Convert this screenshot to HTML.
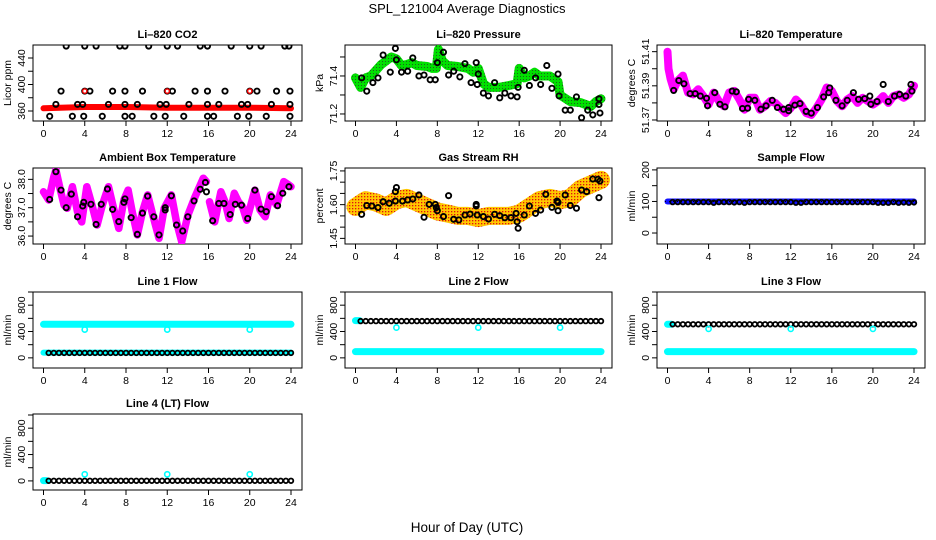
<!DOCTYPE html>
<html><head><meta charset="utf-8"><style>
html,body{margin:0;padding:0;background:#fff;}
svg{display:block;font-family:"Liberation Sans",Arial,sans-serif;}
</style></head><body>
<svg id="chart" width="936" height="540" viewBox="0 0 936 540" xmlns="http://www.w3.org/2000/svg">
<defs>
<pattern id="greenPat" width="3" height="3" patternUnits="userSpaceOnUse"><rect width="3" height="3" fill="#00e000"/><rect x="1" y="1" width="1" height="1" fill="#206020"/></pattern>
<pattern id="rhPat" width="3" height="3" patternUnits="userSpaceOnUse"><rect width="3" height="3" fill="#ffc800"/><rect x="1" y="1" width="1.3" height="1.3" fill="#e01010"/></pattern>
<pattern id="bluePat" width="4" height="4" patternUnits="userSpaceOnUse"><rect width="4" height="4" fill="#1010ff"/><rect x="1" y="1" width="1" height="1" fill="#000"/></pattern>
</defs>
<text x="467" y="13" text-anchor="middle" font-size="13">SPL_121004  Average Diagnostics</text>
<text x="467" y="532" text-anchor="middle" font-size="13.5">Hour of Day (UTC)</text>
</svg>
<script>
// ---------- shared data ----------
const xTicks = [0,4,8,12,16,20,24];
const hours = [0.5,1,1.5,2,2.5,3,3.5,4,4.5,5,5.5,6,6.5,7,7.5,8,8.5,9,9.5,10,10.5,11,11.5,12,12.5,13,13.5,14,14.5,15,15.5,16,16.5,17,17.5,18,18.5,19,19.5,20,20.5,21,21.5,22,22.5,23,23.5,24];

// Li-820 CO2
const co2BandT = [0,4,8,12,16,20,24];
const co2BandV = [364,366,366,365,365,365,364];
const co2PtsT = [2.2,4,5.1,7.4,7.9,10.2,12,13,15.2,15.9,18.2,20,21.1,23.4,23.8, 1.7,4,4.5,6.7,7.9,9.6,12,12.5,14.7,15.9,17.6,20,20.7,22.6,23.9, 1.2,3.3,3.8,6.3,7.9,9.1,11.3,11.9,14.1,15.9,17,19.2,19.8,22.1,23.9, 0.6,2.8,3.9,5.7,7.9,8.6,10.7,11.8,13.6,15.9,16.5,18.8,19.9,21.6,23.9];
const co2PtsV = [458,458,458,458,458,458,458,458,458,458,458,458,458,458,458, 390,390,390,390,390,390,390,390,390,390,390,390,390,390,390, 370,370,370,370,370,370,370,370,370,370,370,370,370,370,370, 352,352,352,352,352,352,352,352,352,352,352,352,352,352,352];
const co2RedT = [4,12,20];
const co2RedV = [390,390,390];

// Li-820 Pressure
const presBandT = [0,0.5,1,1.5,2,2.5,3,3.5,4,4.5,5,5.5,6,7,7.5,7.9,8.1,8.5,9,10,11,11.5,12,12.5,13,14,15,15.8,16,16.5,17,17.5,18,19,19.8,20,21,22,23,23.5,24];
const presBandV = [71.39,71.34,71.39,71.40,71.43,71.46,71.48,71.50,71.49,71.455,71.46,71.47,71.455,71.45,71.44,71.44,71.54,71.48,71.455,71.45,71.44,71.42,71.44,71.36,71.34,71.34,71.35,71.36,71.44,71.39,71.40,71.42,71.40,71.40,71.37,71.30,71.265,71.26,71.24,71.265,71.28];
const presPtsT = [0.6,1.1,1.7,2.2,2.7,3.4,3.9,4,4.5,5.1,5.6,6.2,6.7,7.3,7.8,8,8.6,9.1,9.6,10.2,10.7,11.3,11.8,11.9,12,12.5,13,13.6,14.1,14.6,15.2,15.8,15.9,16.5,17,17.6,18.1,18.7,19.2,19.8,19.9,20.5,21,21.6,22.1,22.7,23.2,23.8,23.8,23.9];
const presPtsV = [71.39,71.32,71.365,71.39,71.51,71.42,71.545,71.485,71.42,71.425,71.495,71.40,71.405,71.38,71.38,71.47,71.525,71.405,71.425,71.395,71.465,71.365,71.47,71.355,71.41,71.31,71.295,71.365,71.285,71.31,71.295,71.29,71.34,71.43,71.35,71.39,71.355,71.455,71.335,71.41,71.295,71.22,71.22,71.29,71.18,71.22,71.195,71.28,71.25,71.205];

// Li-820 Temperature
const tempBandT = [0,0.1,0.3,0.6,1,1.5,2,2.5,3,3.5,4,4.5,5,5.5,6,6.5,7,7.5,8,8.5,9,9.5,10,10.5,11,11.5,12,12.5,13,13.5,14,14.5,15,15.5,16,16.5,17,17.5,18,18.5,19,19.5,20,20.5,21,21.5,22,22.5,23,23.5,24];
const tempBandV = [51.410,51.400,51.394,51.388,51.393,51.396,51.386,51.385,51.388,51.384,51.379,51.386,51.381,51.378,51.386,51.387,51.382,51.376,51.383,51.383,51.376,51.378,51.381,51.380,51.377,51.374,51.377,51.382,51.379,51.374,51.373,51.377,51.382,51.389,51.387,51.381,51.378,51.382,51.384,51.380,51.383,51.381,51.379,51.381,51.384,51.380,51.384,51.385,51.383,51.385,51.390];
const tempPtsT = [0.6,1.1,1.6,2.2,2.7,3.2,3.8,3.9,4.6,5.1,5.6,6.3,6.7,7.3,7.8,7.9,8.5,9.1,9.6,10.2,10.7,11.3,11.8,11.8,12.4,12.9,13.5,14,14.6,15.2,15.7,15.8,16.4,17,17.5,18.1,18.6,19.2,19.7,19.8,20.4,21,21.5,22.1,22.6,23.2,23.7,23.8];
const tempPtsV = [51.3873,51.3931,51.3912,51.3854,51.3854,51.3840,51.3827,51.3783,51.3860,51.3792,51.3777,51.3869,51.3865,51.3767,51.3769,51.3821,51.3815,51.3763,51.3783,51.3815,51.3773,51.3763,51.3754,51.3773,51.3787,51.3796,51.3750,51.3740,51.3773,51.3835,51.3860,51.3888,51.3815,51.3783,51.3815,51.3860,51.3821,51.3825,51.3840,51.3792,51.3808,51.3908,51.3808,51.3840,51.3850,51.3840,51.3908,51.3869];

// Ambient Box Temperature
const ambBandT = [0,0.5,1,1.2,1.6,2,2.3,2.8,3.3,3.7,4.2,4.7,5.2,5.7,6.3,6.8,7.3,7.8,8.2,8.6,9.1,9.6,10.1,10.6,11.2,11.7,12.4,12.9,13.4,14,14.7,15.5,15.8];
const ambBandV = [37.56,37.27,38.09,38.33,37.68,37.09,36.98,37.74,36.86,36.5,37.74,37.09,36.39,37.09,37.74,36.98,36.27,37.27,37.62,36.86,36.04,36.86,37.45,36.74,35.92,36.98,37.45,36.5,35.8,36.74,37.39,38.04,37.92];
const ambBand2T = [16.1,16.6,17.2,17.6,18,18.5,18.9,19.3,19.7,20.5,21,21.5,22,22.6,23.3,23.8,24];
const ambBand2V = [37.21,36.5,37.56,37.21,36.62,37.51,37.21,37.04,36.56,37.62,36.92,36.68,37.45,37.09,37.92,37.8,37.74];
const ambPtsT = [0.6,1.2,1.7,2.2,2.7,3.3,3.8,3.9,4.6,5.1,5.6,6.2,6.7,7.3,7.8,7.9,8.5,9.1,9.6,10.1,10.7,11.2,11.8,11.8,12.4,12.9,13.5,14,14.6,15.2,15.7,15.8,16.4,17,17.5,18.1,18.6,19.2,19.8,20.5,21.1,21.6,22.1,22.7,23.2,23.8];
const ambPtsV = [37.29,38.27,37.62,37.0,37.48,36.68,37.06,37.19,37.12,36.41,37.12,37.66,36.94,36.51,37.19,37.31,36.65,36.06,36.81,37.41,36.68,36.04,36.92,37.0,37.42,36.39,36.18,36.68,37.24,37.65,37.89,37.56,36.54,37.15,37.15,36.76,37.12,37.09,36.62,37.62,36.95,36.86,37.39,37.07,37.51,37.74];

// Gas Stream RH
const rhBandT = [0,1,2,3,4,5,6,7,8,9,10,11,12,13,14,15,16,17,18,19,20,21,22,23,24];
const rhBandV = [1.59,1.62,1.61,1.59,1.62,1.63,1.61,1.59,1.57,1.56,1.55,1.55,1.54,1.55,1.55,1.55,1.56,1.59,1.62,1.63,1.62,1.63,1.67,1.69,1.71];
const rhPtsT = [0.6,1.1,1.6,2.2,2.7,3.3,3.9,3.9,4,4.6,5.1,5.6,6.2,6.7,7.2,7.8,7.9,8,8.6,9.1,9.6,10.1,10.7,11.2,11.8,11.8,11.9,12.5,13,13.6,14.1,14.6,15.2,15.7,15.8,15.9,16.5,17,17.6,18.1,18.6,19.2,19.7,19.8,19.8,20.5,21,21.6,22.1,22.6,23.2,23.7,23.8,23.9];
const rhPtsV = [1.557,1.596,1.594,1.587,1.613,1.606,1.616,1.658,1.676,1.616,1.621,1.625,1.643,1.544,1.601,1.601,1.587,1.573,1.547,1.640,1.535,1.532,1.554,1.558,1.601,1.594,1.554,1.547,1.536,1.557,1.551,1.542,1.542,1.561,1.524,1.495,1.554,1.594,1.561,1.576,1.646,1.588,1.616,1.610,1.573,1.643,1.596,1.584,1.665,1.658,1.714,1.713,1.631,1.705];

// Sample Flow
const sfBandT = [0,24];
const sfBandV = [100,100];
const sfPtsV = [98,98,98,98,98,98,98,98,96,98,98,98,97,98,96,98,98,98,98,98,98,98,98,98,96,96,98,98,98,98,98,98,98,98,98,98,98,98,98,98,96,96,96,98,96,97,96,97];

// Line flows
const l1TopT = [0,24];   const l1TopV = [510,510];
const l1LowT = [0,24];   const l1LowV = [80,80];
const l1PtsV = [75,75,75,75,75,75,75,75,75,75,75,75,75,75,75,75,75,75,75,75,75,75,75,75,75,75,75,75,75,75,75,75,75,75,75,75,75,75,75,75,75,75,75,75,75,75,75,75];
const l1OddT = [4,12,20]; const l1OddV = [430,430,430];

const l2TopT = [0,0.4];  const l2TopV = [565,565];
const l2LowT = [0,24];   const l2LowV = [95,95];
const l2PtsV = [558,558,558,558,558,558,558,558,558,558,558,558,558,558,558,558,558,558,558,558,558,558,558,558,558,558,558,558,558,558,558,558,558,558,558,558,558,558,558,558,558,558,558,558,558,558,558,558];
const l2OddT = [4,12,20]; const l2OddV = [460,460,460];

const l3TopT = [0,0.4];  const l3TopV = [510,510];
const l3LowT = [0,24];   const l3LowV = [95,95];
const l3PtsV = [510,510,510,510,510,510,510,510,510,510,510,510,510,510,510,510,510,510,510,510,510,510,510,510,510,510,510,510,510,510,510,510,510,510,510,510,510,510,510,510,510,510,510,510,510,510,510,510];
const l3OddT = [4,12,20]; const l3OddV = [440,440,440];

const l4TopT = [0,0.3];  const l4TopV = [5,5];
const l4PtsV = [2,2,2,2,2,2,2,2,2,2,2,2,2,2,2,2,2,2,2,2,2,2,2,2,2,2,2,2,2,2,2,2,2,2,2,2,2,2,2,2,2,2,2,2,2,2,2,2];
const l4OddT = [4,12,20]; const l4OddV = [100,100,100];

// ---------- drawing ----------
const NS = "http://www.w3.org/2000/svg";
const svg = document.getElementById('chart');
const colL = [33,345,657], colR = [302,612,925];
const rowT = [45,168,292,414], H = 76;
function mk(tag, attrs, parent){ const e=document.createElementNS(NS,tag); for(const k in attrs) e.setAttribute(k,attrs[k]); (parent||svg).appendChild(e); return e; }

function panel(col,row,name,title,ylab,ymin,ymax,ticks,labels){
  const L=colL[col], R=colR[col], T=rowT[row], B=T+H;
  const g = mk('g',{});
  
  
  const x0=L+10.5, x1=R-11;
  const sx = t => x0+(x1-x0)*t/24;
  const sy = v => B-(v-ymin)/(ymax-ymin)*H;
  const tt = mk('text',{x:(L+R)/2,y:T-7,'text-anchor':'middle','font-size':'11','font-weight':'bold'},g);
  tt.textContent=title;
  
  
  const yl = mk('text',{transform:`translate(${L-22},${(T+B)/2}) rotate(-90)`,'text-anchor':'middle','font-size':'10.5'},g);
  yl.textContent=ylab;
  
  
  mk('line',{x1:sx(0),x2:sx(24),y1:B,y2:B,stroke:'#000'},g);
  xTicks.forEach(t=>{
    mk('line',{x1:sx(t),x2:sx(t),y1:B,y2:B+5,stroke:'#000'},g);
    const lb=mk('text',{x:sx(t),y:B+16,'text-anchor':'middle','font-size':'10.5'},g);
    lb.textContent=t;
    
    
  });
  mk('line',{x1:L,x2:L,y1:sy(ticks[0]),y2:sy(ticks[ticks.length-1]),stroke:'#000'},g);
  ticks.forEach(v=>{
    mk('line',{x1:L,x2:L-5,y1:sy(v),y2:sy(v),stroke:'#000'},g);
  });
  labels.forEach(lab=>{
    const y=sy(parseFloat(lab));
    const lb=mk('text',{transform:`translate(${L-8},${y}) rotate(-90)`,'text-anchor':'middle','font-size':'10.5'},g);
    lb.textContent=lab;
    
    
  });
  mk('rect',{x:L,y:T,width:R-L,height:H,fill:'none',stroke:'#000'},g);
  const clip = mk('clipPath',{id:'clip-'+name},g);
  mk('rect',{x:L,y:T,width:R-L,height:H},clip);
  const data = mk('g',{'clip-path':`url(#clip-${name})`},g);
  return {sx,sy,g:data};
}
function band(p,ts,vs,color,w,name){
  const d = ts.map((t,i)=>(i?'L':'M')+p.sx(t).toFixed(1)+','+p.sy(vs[i]).toFixed(1)).join(' ');
  const e = mk('path',{d,fill:'none',stroke:color,'stroke-width':w,'stroke-linejoin':'round','stroke-linecap':'round'},p.g);
  
  
}
function pts(p,ts,vs,color,name,r,sw){
  ts.forEach((t,i)=>{
    const c = mk('circle',{cx:p.sx(t),cy:p.sy(vs[i]),r:r||2.6,fill:'none',stroke:color,'stroke-width':sw||1.9},p.g);
    
    
  });
}

let p = panel(0,0,'co2','Li\u2013820 CO2','Licor ppm',344.9,459.6,[360,380,400,420,440],['360','400','440']);
band(p,co2BandT,co2BandV,'#ff0000',6,'co2-band');
pts(p,co2PtsT,co2PtsV,'#000','co2-point');
pts(p,co2RedT,co2RedV,'#ff0000','co2-red-point',2.2,1.4);

p = panel(1,0,'pressure','Li\u2013820 Pressure','kPa',71.163,71.563,[71.2,71.3,71.4,71.5],['71.2','71.4']);
band(p,presBandT,presBandV,'url(#greenPat)',9,'pressure-band');
pts(p,presPtsT,presPtsV,'#000','pressure-point');

p = panel(2,0,'li820-temp','Li\u2013820 Temperature','degrees C',51.3694,51.4139,[51.37,51.38,51.39,51.40,51.41],['51.37','51.39','51.41']);
band(p,tempBandT,tempBandV,'#ff00ff',8,'temperature-band');
pts(p,tempPtsT,tempPtsV,'#000','temperature-point');

p = panel(0,1,'ambient','Ambient Box Temperature','degrees C',35.72,38.40,[36,36.5,37,37.5,38],['36.0','37.0','38.0']);
band(p,ambBandT,ambBandV,'#ff00ff',7.5,'ambient-band');
band(p,ambBand2T,ambBand2V,'#ff00ff',7.5,'ambient-band-2');
pts(p,ambPtsT,ambPtsV,'#000','ambient-point');

p = panel(1,1,'rh','Gas Stream RH','percent',1.425,1.763,[1.45,1.5,1.55,1.6,1.65,1.7,1.75],['1.45','1.60','1.75']);
band(p,rhBandT,rhBandV,'url(#rhPat)',18,'rh-band');
pts(p,rhPtsT,rhPtsV,'#000','rh-point');

p = panel(2,1,'sample-flow','Sample Flow','ml/min',-34.8,206,[0,50,100,150,200],['0','100','200']);
band(p,sfBandT,sfBandV,'url(#bluePat)',6,'sample-flow-band');
pts(p,hours,sfPtsV,'#000','sample-flow-point',2.3,1.8);

const fTicks=[0,200,400,600,800,1000], fLabs=['0','400','800'];
p = panel(0,2,'line1','Line 1 Flow','ml/min',-154,1000,fTicks,fLabs);
band(p,l1TopT,l1TopV,'#00ffff',7,'line1-cyan-band');
band(p,l1LowT,l1LowV,'#00ffff',6,'line1-cyan-low');
pts(p,hours,l1PtsV,'#000','line1-point',2.3,1.8);
pts(p,l1OddT,l1OddV,'#00ffff','line1-cyan-point',2.6,1.6);

p = panel(1,2,'line2','Line 2 Flow','ml/min',-154,1000,fTicks,fLabs);
band(p,l2TopT,l2TopV,'#00ffff',7,'line2-cyan-band');
band(p,l2LowT,l2LowV,'#00ffff',7,'line2-cyan-low');
pts(p,hours,l2PtsV,'#000','line2-point',2.3,1.8);
pts(p,l2OddT,l2OddV,'#00ffff','line2-cyan-point',2.6,1.6);

p = panel(2,2,'line3','Line 3 Flow','ml/min',-154,1000,fTicks,fLabs);
band(p,l3TopT,l3TopV,'#00ffff',7,'line3-cyan-band');
band(p,l3LowT,l3LowV,'#00ffff',7,'line3-cyan-low');
pts(p,hours,l3PtsV,'#000','line3-point',2.3,1.8);
pts(p,l3OddT,l3OddV,'#00ffff','line3-cyan-point',2.6,1.6);

p = panel(0,3,'line4','Line 4 (LT) Flow','ml/min',-138,1015,fTicks,fLabs);
band(p,l4TopT,l4TopV,'#00ffff',7,'line4-cyan-band');
pts(p,hours,l4PtsV,'#000','line4-point',2.3,1.8);
pts(p,l4OddT,l4OddV,'#00ffff','line4-cyan-point',2.6,1.6);
</script>
</body></html>
